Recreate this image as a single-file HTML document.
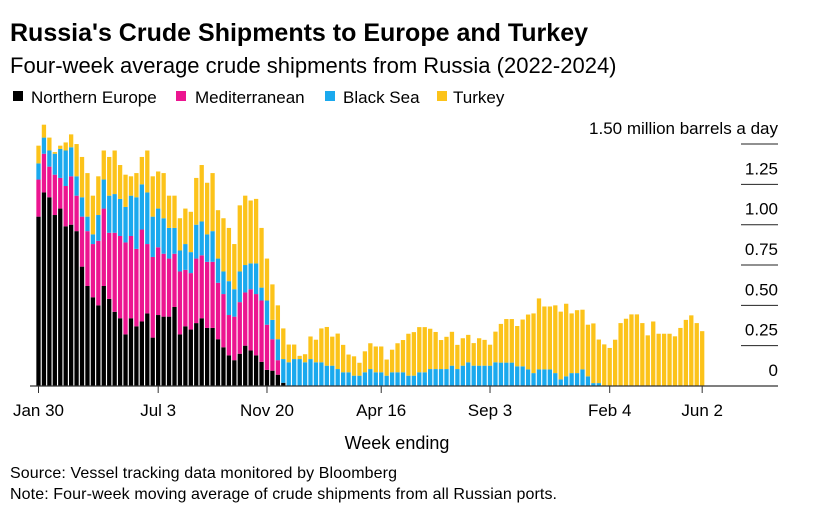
<!DOCTYPE html>
<html><head><meta charset="utf-8"><style>
body{margin:0;background:#fff;width:814px;height:520px;overflow:hidden;font-family:"Liberation Sans",Arial,sans-serif;color:#000}
svg{position:absolute;left:0;top:0}
</style></head><body>
<svg width="814" height="520" id="svg">
<text x="10" y="41" font-size="25" font-weight="bold" textLength="578">Russia's Crude Shipments to Europe and Turkey</text>
<text x="10" y="73" font-size="22">Four-week average crude shipments from Russia (2022-2024)</text>
<g font-size="17">
<rect x="13" y="91" width="10" height="10" fill="#000"/>
<text x="31" y="103">Northern Europe</text>
<rect x="176" y="91" width="10" height="10" fill="#ec1590"/>
<text x="195" y="103">Mediterranean</text>
<rect x="325" y="91" width="10" height="10" fill="#1aa9ee"/>
<text x="343" y="103">Black Sea</text>
<rect x="437" y="91" width="10" height="10" fill="#fcc31a"/>
<text x="453" y="103">Turkey</text>
</g>
<g id="grid"></g><g id="bars"></g><g id="axes"></g>
<text x="397" y="449" font-size="18" text-anchor="middle">Week ending</text>
<text x="10" y="478" font-size="16" textLength="387">Source: Vessel tracking data monitored by Bloomberg</text>
<text x="10" y="499" font-size="16" textLength="547">Note: Four-week moving average of crude shipments from all Russian ports.</text>
</svg>
<script>
const northernEurope=[1.05,1.20,1.17,1.06,1.10,.99,1.00,.96,.74,.62,.55,.50,.62,.54,.46,.42,.32,.42,.37,.40,.45,.30,.44,.43,.43,.49,.32,.37,.35,.39,.42,.36,.36,.29,.24,.19,.16,.20,.25,.22,.19,.15,.10,.095,.07,.02,0,0,0,0,0,0,0,0,0,0,0,0,0,0,0,0,0,0,0,0,0,0,0,0,0,0,0,0,0,0,0,0,0,0,0,0,0,0,0,0,0,0,0,0,0,0,0,0,0,0,0,0,0,0,0,0,0,0,0,0,0,0,0,0,0,0,0,0,0,0,0,0,0,0,0,0,0];
const mediterranean=[.23,.24,.19,.25,.19,.25,.30,.22,.31,.34,.33,.40,.48,.41,.49,.51,.57,.51,.48,.57,.43,.50,.42,.39,.36,.33,.39,.35,.35,.40,.39,.41,.41,.35,.33,.25,.27,.32,.33,.38,.38,.38,.28,.195,.09,0,0,0,0,0,0,0,0,0,0,0,0,0,0,0,0,0,0,0,0,0,0,0,0,0,0,0,0,0,0,0,0,0,0,0,0,0,0,0,0,0,0,0,0,0,0,0,0,0,0,0,0,0,0,0,0,0,0,0,0,0,0,0,0,0,0,0,0,0,0,0,0,0,0,0,0,0,0];
const blackSea=[.10,.10,.10,.13,.18,.22,.18,.12,.12,.09,.06,.16,.18,.23,.24,.23,.22,.25,.32,.28,.32,.25,.24,.22,.19,.16,.13,.16,.13,.21,.21,.17,.19,.15,.14,.21,.17,.19,.17,.16,.19,.08,.15,.12,.13,.147,.147,.167,.167,.147,.167,.147,.147,.126,.126,.105,.085,.085,.064,.064,.085,.105,.085,.085,.064,.085,.085,.085,.064,.064,.085,.085,.105,.105,.105,.105,.126,.105,.126,.147,.126,.126,.126,.126,.147,.145,.145,.145,.122,.122,.103,.08,.103,.103,.103,.08,.041,.06,.08,.08,.103,.06,.018,.018,0,0,0,0,0,0,0,0,0,0,0,0,0,0,0,0,0,0,0];
const turkey=[.11,.08,.08,.01,.02,.05,.08,.20,.25,.27,.24,.24,.18,.24,.27,.21,.20,.12,.15,.17,.26,.25,.23,.28,.20,.20,.20,.22,.25,.29,.35,.32,.36,.30,.33,.33,.28,.41,.43,.39,.40,.37,.26,.22,.21,.19,.11,.09,.02,.05,.14,.14,.21,.24,.18,.22,.17,.11,.12,.08,.13,.16,.16,.16,.10,.14,.18,.20,.26,.27,.28,.28,.25,.23,.18,.20,.21,.15,.17,.17,.14,.17,.16,.13,.19,.24,.27,.27,.25,.29,.34,.37,.44,.39,.39,.42,.42,.45,.37,.39,.37,.32,.37,.27,.258,.236,.287,.39,.417,.444,.444,.39,.314,.40,.324,.324,.324,.308,.36,.41,.438,.39,.34];
const series=[northernEurope,mediterranean,blackSea,turkey];
const seriesNames=['northern-europe','mediterranean','black-sea','turkey'];
const colors=['#000','#ec1590','#1aa9ee','#fcc31a'];
const yTicks=[0,0.25,0.5,0.75,1.0,1.25,1.5];
const yTickLabels=['0','0.25','0.50','0.75','1.00','1.25','1.50 million barrels a day'];
const xTickIdx=[0,22,42,63,83,105,122];
const xTickLabels=['Jan 30','Jul 3','Nov 20','Apr 16','Sep 3','Feb 4','Jun 2'];
const NS='http://www.w3.org/2000/svg';
const y0=386,pxPer=161.3,x0=38.5,step=5.44,bw=4.3;
const yS=v=>y0-v*pxPer, xS=i=>x0+i*step;
function mk(t,a,p){const e=document.createElementNS(NS,t);for(const k in a)e.setAttribute(k,a[k]);p.appendChild(e);return e;}
const grid=document.getElementById('grid'),bars=document.getElementById('bars'),axes=document.getElementById('axes');
yTicks.forEach((v,k)=>{
  if(v>0){const l=mk('line',{x1:741,x2:778,y1:yS(v),y2:yS(v),stroke:'#222','stroke-width':1},grid);
  
  }
  const t=mk('text',{x:778,y:yS(v)-10,'text-anchor':'end','font-size':17},axes);
  t.textContent=yTickLabels[k];
  
  
});
for(let i=0;i<turkey.length;i++){
  let base=0;
  series.forEach((s,si)=>{
    const v=s[i];if(v>0){
      const r=mk('rect',{x:xS(i)-bw/2,y:yS(base+v),width:bw,height:v*pxPer,fill:colors[si]},bars);
      
      
    }
    base+=v;
  });
}
const bl=mk('line',{x1:30,x2:778,y1:y0,y2:y0,stroke:'#333','stroke-width':1.2},axes);


xTickIdx.forEach((idx,k)=>{
  const tk=mk('line',{x1:xS(idx),x2:xS(idx),y1:y0,y2:y0+7,stroke:'#333','stroke-width':1},axes);
  
  
  const t=mk('text',{x:xS(idx),y:416,'text-anchor':'middle','font-size':17},axes);
  t.textContent=xTickLabels[k];
  
  
});
</script>
</body></html>
